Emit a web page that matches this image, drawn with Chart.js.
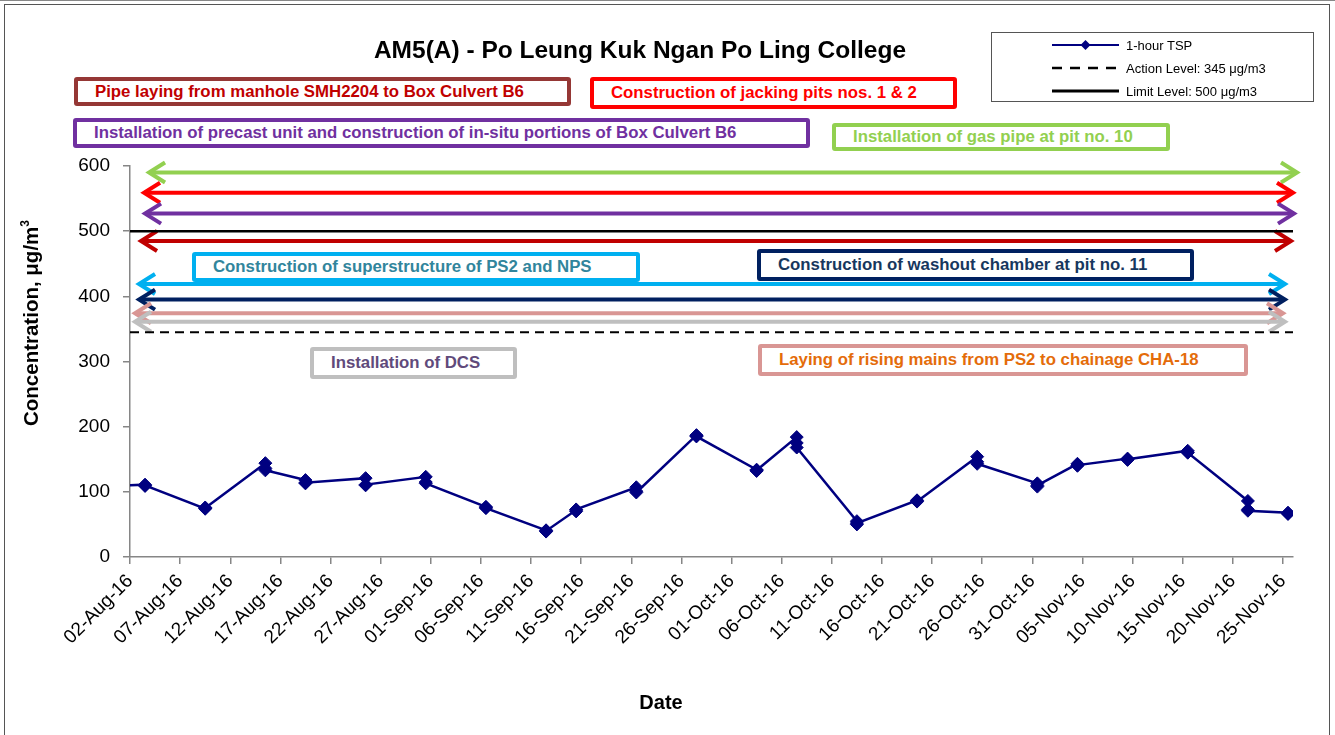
<!DOCTYPE html>
<html>
<head>
<meta charset="utf-8">
<script src="https://cdn.jsdelivr.net/npm/chart.js"></script>
<style>
  body { margin: 0; background: #fff; font-family: "Liberation Sans", Arial, sans-serif; }
  #wrap { position: relative; width: 1335px; height: 735px; overflow: hidden; background: #fff; }
  #myChart { position: absolute; left: 0; top: 0; }
  .topline { position: absolute; left: 0; top: 0; width: 1335px; height: 0; border-top: 1px solid #888; }
  .frame { position: absolute; left: 4px; top: 4px; width: 1324px; height: 760px; border: 1.5px solid #555; }
  .title { position: absolute; left: 0; top: 36px; width: 1280px; text-align: center; font-weight: bold; font-size: 24.5px; color: #000; }
  .note { position: absolute; box-sizing: border-box; border: 4px solid; border-radius: 3px; background: #fff;
          font-weight: bold; font-size: 16.8px; padding-left: 17px; display: flex; align-items: center; white-space: nowrap; }
  .ytitle { position: absolute; left: -119px; top: 311px; width: 300px; text-align: center; font-weight: bold; font-size: 20.5px;
            transform: rotate(-90deg); }
  .ytitle sup { font-size: 12px; vertical-align: 9px; line-height: 0; }
  .xtitle { position: absolute; left: 561px; top: 691px; width: 200px; text-align: center; font-weight: bold; font-size: 20px; }
  .legend { position: absolute; left: 991px; top: 32px; width: 323px; height: 70px; box-sizing: border-box; border: 1px solid #555; background: #fff; }
  .legend .row { position: absolute; left: 60px; height: 14px; display: flex; align-items: center; font-size: 13px; white-space: nowrap; }
  .legend svg { margin-right: 7px; }
</style>
</head>
<body>
<div id="wrap">
  <canvas id="myChart" width="1335" height="735"></canvas>
  <div class="topline"></div>
  <div class="frame"></div>
  <div class="title">AM5(A) - Po Leung Kuk Ngan Po Ling College</div>
  <div class="ytitle">Concentration, μg/m<sup>3</sup></div>
  <div class="xtitle">Date</div>
  <div class="legend">
    <div class="row" style="top:5px">
      <svg width="67" height="14"><line x1="0" y1="7" x2="67" y2="7" stroke="#000080" stroke-width="2"/><polygon points="33.5,2 38.5,7 33.5,12 28.5,7" fill="#000080"/></svg>1-hour TSP
    </div>
    <div class="row" style="top:28px">
      <svg width="67" height="14"><line x1="0" y1="7" x2="67" y2="7" stroke="#000" stroke-width="2.5" stroke-dasharray="10,8"/></svg>Action Level: 345 μg/m3
    </div>
    <div class="row" style="top:51px">
      <svg width="67" height="14"><line x1="0" y1="7" x2="67" y2="7" stroke="#000" stroke-width="3"/></svg>Limit Level: 500 μg/m3
    </div>
  </div>
</div>
<script>
// ---- data ----
const sampleDates = ['28-Jul-16', '03-Aug-16', '09-Aug-16', '15-Aug-16', '19-Aug-16', '25-Aug-16', '31-Aug-16',
  '06-Sep-16', '12-Sep-16', '15-Sep-16', '21-Sep-16', '27-Sep-16', '03-Oct-16', '07-Oct-16', '13-Oct-16',
  '19-Oct-16', '25-Oct-16', '31-Oct-16', '04-Nov-16', '09-Nov-16', '15-Nov-16', '21-Nov-16', '25-Nov-16'];
// three 1-hour readings on each sampling day
const tspReadings = [
  [108],
  [111, 109, 110],
  [74, 76, 75],
  [144, 136, 133],
  [118, 113, 114],
  [121, 110, 111],
  [123, 115, 113],
  [77, 76, 75],
  [41, 39, 40],
  [72, 70, 73],
  [107, 101, 99],
  [187, 186, 185],
  [134, 132, 133],
  [184, 175, 168],
  [55, 50, 52],
  [87, 86, 85],
  [154, 146, 143],
  [113, 108, 110],
  [143, 140, 141],
  [151, 149, 150],
  [163, 161, 160],
  [86, 73, 71],
  [68, 67, 66]
];
const tickLabels = ['02-Aug-16', '07-Aug-16', '12-Aug-16', '17-Aug-16', '22-Aug-16', '27-Aug-16', '01-Sep-16',
  '06-Sep-16', '11-Sep-16', '16-Sep-16', '21-Sep-16', '26-Sep-16', '01-Oct-16', '06-Oct-16', '11-Oct-16',
  '16-Oct-16', '21-Oct-16', '26-Oct-16', '31-Oct-16', '05-Nov-16', '10-Nov-16', '15-Nov-16', '20-Nov-16', '25-Nov-16'];
const axisEndDate = '26-Nov-16';
const actionLevel = 345;
const limitLevel = 500;

// construction activity arrows (level on the y scale, span in days from 02-Aug-16)
const activityLevels = [590, 559, 527, 485, 419, 395, 374, 361];
const activityFrom = [1.7, 1.2, 1.3, 0.9, 0.7, 0.7, 0.3, 0.3];
const activityTo = [116.6, 116.2, 116.3, 116.0, 115.4, 115.4, 115.2, 115.4];
const activityColors = ['#92D050', '#FF0000', '#7030A0', '#C00000', '#00B0F0', '#002060', '#D99694', '#BFBFBF'];

// ---- labels for the activity arrows (layout) ----
const notes = [
  { text: 'Pipe laying from manhole SMH2204 to Box Culvert B6', left: 74, top: 77, w: 497, h: 29, border: '#953735', color: '#C00000' },
  { text: 'Construction of jacking pits nos. 1 & 2', left: 590, top: 77, w: 367, h: 32, border: '#FF0000', color: '#FF0000' },
  { text: 'Installation of precast unit and construction of in-situ portions of Box Culvert B6', left: 73, top: 118, w: 737, h: 30, border: '#7030A0', color: '#7030A0' },
  { text: 'Installation of gas pipe at pit no. 10', left: 832, top: 123, w: 338, h: 28, border: '#92D050', color: '#92D050' },
  { text: 'Construction of superstructure of PS2 and NPS', left: 192, top: 252, w: 448, h: 30, border: '#00B0F0', color: '#31859C' },
  { text: 'Construction of washout chamber at pit no. 11', left: 757, top: 249, w: 437, h: 32, border: '#002060', color: '#17375E' },
  { text: 'Installation of DCS', left: 310, top: 347, w: 207, h: 32, border: '#BFBFBF', color: '#604A7B' },
  { text: 'Laying of rising mains from PS2 to chainage CHA-18', left: 758, top: 344, w: 490, h: 32, border: '#D99694', color: '#E46C0A' }
];
const wrap = document.getElementById('wrap');
notes.forEach(n => {
  const d = document.createElement('div');
  d.className = 'note';
  d.textContent = n.text;
  d.style.left = n.left + 'px';
  d.style.top = n.top + 'px';
  d.style.width = n.w + 'px';
  d.style.height = n.h + 'px';
  d.style.borderColor = n.border;
  d.style.color = n.color;
  wrap.insertBefore(d, document.querySelector('.legend'));
});

// days since the first tick
const months = { Jan: 0, Feb: 1, Mar: 2, Apr: 3, May: 4, Jun: 5, Jul: 6, Aug: 7, Sep: 8, Oct: 9, Nov: 10, Dec: 11 };
function dayOf(s) {
  const [d, m, y] = s.split('-');
  const t = Date.UTC(2000 + Number(y), months[m], Number(d));
  return Math.round((t - Date.UTC(2016, 7, 2)) / 86400000);
}

// Excel date axis puts each day's point in the middle of the day
const tspPoints = [];
sampleDates.forEach((dt, i) => {
  tspReadings[i].forEach(v => tspPoints.push({ x: dayOf(dt) + 0.5, y: v }));
});
const axisEnd = dayOf(axisEndDate);

const arrowPlugin = {
  id: 'arrows',
  beforeDatasetsDraw(chart) {
    const { ctx, scales: { x, y } } = chart;
    ctx.save();
    ctx.lineWidth = 4;
    ctx.lineJoin = 'miter';
    activityLevels.forEach((lvl, i) => {
      const yy = y.getPixelForValue(lvl);
      const x1 = x.getPixelForValue(activityFrom[i]);
      const x2 = x.getPixelForValue(activityTo[i]);
      ctx.strokeStyle = activityColors[i];
      ctx.beginPath();
      ctx.moveTo(x1 + 2, yy);
      ctx.lineTo(x2 - 2, yy);
      ctx.stroke();
      ctx.beginPath();
      ctx.moveTo(x1 + 18, yy - 10);
      ctx.lineTo(x1 + 2, yy);
      ctx.lineTo(x1 + 18, yy + 10);
      ctx.moveTo(x2 - 18, yy - 10);
      ctx.lineTo(x2 - 2, yy);
      ctx.lineTo(x2 - 18, yy + 10);
      ctx.stroke();
    });
    ctx.restore();
  }
};

Chart.defaults.font.family = '"Liberation Sans", Arial, sans-serif';

const ctx = document.getElementById('myChart');
new Chart(ctx, {
  type: 'line',
  data: {
    datasets: [
      {
        label: '1-hour TSP',
        data: tspPoints,
        borderColor: '#000080',
        backgroundColor: '#000080',
        borderWidth: 2.5,
        pointStyle: 'rectRot',
        pointRadius: 6.5,
        pointBorderWidth: 1,
        tension: 0
      },
      {
        label: 'Action Level: 345 μg/m3',
        data: [{ x: 0, y: actionLevel }, { x: axisEnd, y: actionLevel }],
        borderColor: '#000',
        borderDash: [9, 6],
        borderWidth: 2,
        pointRadius: 0
      },
      {
        label: 'Limit Level: 500 μg/m3',
        data: [{ x: 0, y: limitLevel }, { x: axisEnd, y: limitLevel }],
        borderColor: '#000',
        borderWidth: 2.5,
        pointRadius: 0
      }
    ]
  },
  options: {
    responsive: false,
    animation: false,
    layout: {
      padding: { left: 0, top: 166, right: 42, bottom: 0 }
    },
    plugins: {
      legend: { display: false },
      title: { display: false },
      tooltip: { enabled: false }
    },
    scales: {
      x: {
        type: 'linear',
        min: 0,
        max: axisEnd,
        afterBuildTicks: (scale) => {
          scale.ticks = tickLabels.map(l => ({ value: dayOf(l) }));
        },
        afterFit: (scale) => { scale.height = 178; },
        ticks: {
          autoSkip: false,
          minRotation: 45,
          maxRotation: 45,
          color: '#000',
          font: { size: 19 },
          padding: 6,
          callback: (v, i) => tickLabels[i]
        },
        grid: { drawOnChartArea: false, tickLength: 7, color: '#868686', lineWidth: 1.5 },
        border: { color: '#868686', width: 1.5 }
      },
      y: {
        min: 0,
        max: 600,
        afterFit: (scale) => { scale.width = 130; },
        ticks: {
          stepSize: 100,
          color: '#000',
          font: { size: 19 },
          padding: 13
        },
        grid: { drawOnChartArea: false, tickLength: 7, color: '#868686', lineWidth: 1.5 },
        border: { color: '#868686', width: 1.5 }
      }
    }
  },
  plugins: [arrowPlugin]
});
</script>
</body>
</html>
